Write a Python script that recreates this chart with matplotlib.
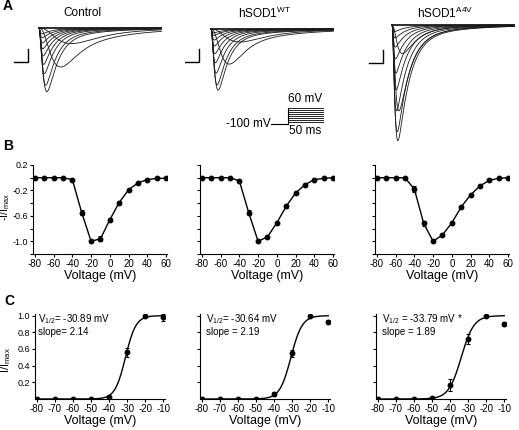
import numpy as np
import matplotlib
matplotlib.use("Agg")
import matplotlib.pyplot as plt

plt.rcParams.update({
    "font.family": ["Liberation Sans", "DejaVu Sans"],
    "mathtext.fontset": "custom",
    "mathtext.rm": "Liberation Sans",
    "mathtext.it": "Liberation Sans:italic",
    "mathtext.bf": "Liberation Sans:bold",
    "axes.unicode_minus": False,
    "axes.linewidth": 0.8,
    "xtick.major.width": 0.8,
    "ytick.major.width": 0.8,
    "xtick.major.size": 2.2,
    "ytick.major.size": 2.2,
    "xtick.labelsize": 7,
    "ytick.labelsize": 6.5,
})

# ---------------- data ----------------
voltages = [-80, -70, -60, -50, -40, -30, -20, -10, 0, 10, 20, 30, 40, 50, 60]
protocol_steps = [-80, -60, -40, -20, 0, 20, 40, 60]
group_titles = ["Control", r"hSOD1$^{\rm WT}$", r"hSOD1$^{\rm A4V}$"]

# Panel A: representative traces (peak in nA, activation / inactivation taus in ms)
ctrl_peak = [0, 0, 0, 0, 1.2, 3.0, 4.9, 4.4, 3.5, 2.8, 2.15, 1.6, 1.15, 0.75, 0.45]
ctrl_tau_m = [1, 1, 1, 1, 40, 24, 4.5, 3.5, 2.6, 2.1, 1.8, 1.6, 1.4, 1.3, 1.2]
ctrl_tau_h = [15, 15, 15, 15, 25, 17, 15, 15, 15, 15, 15, 15, 15, 15, 15]
wt_peak = [0, 0, 0, 0, 1.0, 2.7, 4.7, 4.3, 3.4, 2.6, 1.9, 1.3, 0.85, 0.5, 0.3]
wt_tau_m = [1, 1, 1, 1, 35, 18, 4.0, 3.2, 2.5, 2.0, 1.7, 1.5, 1.3, 1.2, 1.1]
wt_tau_h = [15, 15, 15, 15, 22, 16, 14, 14, 14, 14, 14, 14, 14, 14, 14]
a4v_peak = [0, 0, 0, 0, 2.2, 6.6, 8.9, 8.2, 6.6, 5.0, 3.7, 2.6, 1.7, 1.0, 0.5]
a4v_tau_m = [1, 1, 1, 1, 6, 3.5, 2.8, 2.4, 2.0, 1.8, 1.6, 1.4, 1.3, 1.2, 1.1]
a4v_tau_h = [16, 16, 16, 16, 20, 17, 16, 16, 16, 16, 16, 16, 16, 16, 16]
slow_fraction = 0.08
tau_slow = 70.0
step_duration_ms = 50
holding_mV = -100

# Panel B: normalized I-V
iv_ctrl = [0, 0, 0, 0, -0.03, -0.55, -1.0, -0.96, -0.66, -0.39, -0.19, -0.08, -0.03, -0.01, -0.01]
iv_ctrl_err = [0, 0, 0, 0, 0.01, 0.04, 0.01, 0.04, 0.02, 0.02, 0.01, 0.01, 0.01, 0.01, 0.01]
iv_wt = [0, 0, 0, 0, -0.05, -0.55, -1.0, -0.93, -0.71, -0.45, -0.24, -0.11, -0.03, -0.01, 0]
iv_wt_err = [0, 0, 0, 0, 0.01, 0.04, 0.01, 0.02, 0.02, 0.02, 0.01, 0.01, 0.01, 0, 0]
iv_a4v = [0, 0, 0, 0, -0.18, -0.72, -1.0, -0.90, -0.71, -0.46, -0.27, -0.13, -0.04, -0.01, 0]
iv_a4v_err = [0, 0, 0, 0, 0.05, 0.04, 0.01, 0.01, 0.02, 0.02, 0.02, 0.01, 0.01, 0, 0]

# Panel C: activation
act_v = [-80, -70, -60, -50, -40, -30, -20, -10]
act_ctrl = [0, 0, 0, 0, 0.03, 0.56, 1.0, 0.98]
act_ctrl_err = [0, 0, 0, 0, 0.01, 0.05, 0.01, 0.04]
act_wt = [0, 0, 0, 0, 0.06, 0.55, 1.0, 0.93]
act_wt_err = [0, 0, 0, 0, 0.02, 0.04, 0.01, 0.02]
act_a4v = [0, 0, 0, 0.01, 0.17, 0.72, 1.0, 0.90]
act_a4v_err = [0, 0, 0, 0, 0.07, 0.06, 0.01, 0.02]
v_half = [-30.89, -30.64, -33.79]
fit_k = [2.9, 3.1, 3.5]
fit_labels = [("V$_{1/2}$= -30.89 mV", "slope= 2.14"),
              ("V$_{1/2}$= -30.64 mV", "slope = 2.19"),
              ("V$_{1/2}$ = -33.79 mV *", "slope = 1.89")]

# ---------------- layout helpers ----------------
W, H = 519, 430
fig = plt.figure(figsize=(W / 100, H / 100), dpi=100)


def add_ax(x0, y0, x1, y1):
    return fig.add_axes([x0 / W, 1 - y1 / H, (x1 - x0) / W, (y1 - y0) / H])


PX_PER_MS = 0.7
PX_PER_NA = 13.0


def na_current(t, amp, tm, th):
    if amp == 0:
        return np.zeros_like(t)
    m = 1 - np.exp(-t / tm)
    h = (1 - slow_fraction) * np.exp(-t / th) + slow_fraction * np.exp(-t / tau_slow)
    g = m ** 3 * h
    return -amp * g / g.max()


# ---------------- Panel A ----------------
trace_sets = [(ctrl_peak, ctrl_tau_m, ctrl_tau_h),
              (wt_peak, wt_tau_m, wt_tau_h),
              (a4v_peak, a4v_tau_m, a4v_tau_h)]
trace_boxes = [(12, 172, 39, 28), (185, 345, 211, 29), (365, 519, 392, 25)]
title_x = [82, 265, 445]
scalebar_corner = [(28, 62), (199, 62), (383, 63)]
t = np.arange(0, 175, 0.1)
for i, ((peaks, tms, ths), (x0, x1, ox, by)) in enumerate(zip(trace_sets, trace_boxes)):
    ax = add_ax(x0, 15, x1, 150)
    ax.set_xlim((x0 - ox) / PX_PER_MS, (x1 - ox) / PX_PER_MS)
    ax.set_ylim(-(150 - by) / PX_PER_NA, (by - 15) / PX_PER_NA)
    ax.axis("off")
    for amp, tm, th in zip(peaks, tms, ths):
        ax.plot(t, na_current(t, amp, tm, th), color="#1a1a1a", lw=0.6)
    cx, cy = scalebar_corner[i]
    tc = (cx - ox) / PX_PER_MS
    ic = -(cy - by) / PX_PER_NA
    ax.plot([tc - 20, tc, tc], [ic, ic, ic + 1.0], color="black", lw=1.0,
            solid_joinstyle="miter")
    fig.text(title_x[i] / W, 1 - 13 / H, group_titles[i], ha="center", va="center",
             fontsize=8.5)

# voltage protocol inset
axp = add_ax(245, 96, 340, 140)
axp.set_xlim((245 - 288) / PX_PER_MS, (340 - 288) / PX_PER_MS)
axp.set_ylim(60 - (140 - 108) / 0.1, 60 + (108 - 96) / 0.1)
axp.axis("off")
axp.plot([-24, 0], [holding_mV, holding_mV], color="black", lw=0.8)
axp.plot([0, 0], [holding_mV, max(protocol_steps)], color="black", lw=0.8)
for v in protocol_steps:
    axp.plot([0, step_duration_ms], [v, v], color="black", lw=0.6)
axp.text(step_duration_ms / 2, max(protocol_steps) + 25, "60 mV", ha="center", va="bottom", fontsize=8.5)
axp.text(-25, holding_mV, "-100 mV", ha="right", va="center", fontsize=8.5)
axp.text(step_duration_ms / 2, holding_mV - 12, "50 ms", ha="center", va="top", fontsize=8.5)

# ---------------- Panel B ----------------
iv_sets = [(iv_ctrl, iv_ctrl_err), (iv_wt, iv_wt_err), (iv_a4v, iv_a4v_err)]
b_left = [33, 200, 375]
for i, (vals, errs) in enumerate(iv_sets):
    ax = add_ax(b_left[i], 165, b_left[i] + 134, 254)
    ax.errorbar(voltages, vals, yerr=errs, color="black", lw=1.0, marker="o",
                markersize=3.2, elinewidth=0.8, capsize=1.5, capthick=0.8)
    ax.set_xlim(-82, 61)
    ax.set_ylim(-1.2, 0.2)
    ax.set_xticks([-80, -60, -40, -20, 0, 20, 40, 60])
    yt = [0.2, 0.0, -0.2, -0.4, -0.6, -0.8, -1.0, -1.2]
    ax.set_yticks(yt)
    if i == 0:
        ax.set_yticklabels(["0.2", "", "-0.2", "", "-0.6", "", "-1.0", ""])
    else:
        ax.set_yticklabels([""] * len(yt))
    for s in ["top", "right"]:
        ax.spines[s].set_visible(False)
    ax.tick_params(pad=1.2)
    ax.set_xlabel("Voltage (mV)", fontsize=9, labelpad=1)

fig.text(5.5 / W, 1 - 207 / H, "-I/I$_{\\rm max}$", rotation=90, ha="center", va="center",
         fontsize=7.5)

# ---------------- Panel C ----------------
act_sets = [(act_ctrl, act_ctrl_err), (act_wt, act_wt_err), (act_a4v, act_a4v_err)]
c_left = [35, 200, 376]
text_dx = [0.025, 0.05, 0.05]
vfit = np.linspace(-80, -10, 300)
for i, (vals, errs) in enumerate(act_sets):
    ax = add_ax(c_left[i], 314, c_left[i] + 130, 399)
    ax.plot(vfit, 1 / (1 + np.exp((v_half[i] - vfit) / fit_k[i])), color="black", lw=1.0)
    ax.errorbar(act_v, vals, yerr=errs, color="black", ls="none", marker="o",
                markersize=3.2, elinewidth=0.8, capsize=1.5, capthick=0.8)
    ax.set_xlim(-81, -9)
    ax.set_ylim(0, 1.02)
    ax.set_xticks(act_v)
    yt = [0.2, 0.4, 0.6, 0.8, 1.0]
    ax.set_yticks(yt)
    if i == 0:
        ax.set_yticklabels(["0.2", "0.4", "0.6", "0.8", "1.0"])
    else:
        ax.set_yticklabels([""] * len(yt))
    for s in ["top", "right"]:
        ax.spines[s].set_visible(False)
    ax.tick_params(pad=1.2)
    ax.set_xlabel("Voltage (mV)", fontsize=9, labelpad=1)
    ax.text(text_dx[i], 0.94, fit_labels[i][0], transform=ax.transAxes, fontsize=7,
            ha="left", va="center")
    ax.text(text_dx[i], 0.79, fit_labels[i][1], transform=ax.transAxes, fontsize=7,
            ha="left", va="center")

fig.text(6 / W, 1 - 360 / H, "I/I$_{\\rm max}$", rotation=90, ha="center", va="center",
         fontsize=8)

# panel letters
for lab, (x, y) in zip("ABC", [(3, -1), (3, 139), (4, 294)]):
    fig.text(x / W, 1 - y / H, lab, fontsize=10, fontweight="bold", ha="left", va="top")

fig.savefig("out.png", dpi=100)
